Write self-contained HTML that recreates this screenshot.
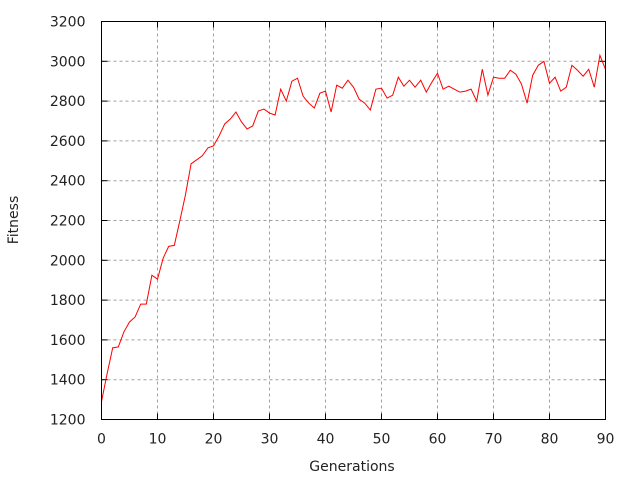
<!DOCTYPE html>
<html><head><meta charset="utf-8"><style>
body{margin:0;background:#fff;}
svg{display:block;font-family:"DejaVu Sans","Liberation Sans",sans-serif;}
</style></head><body>
<svg id="chart" width="640" height="480" viewBox="0 0 640 480">
<rect width="640" height="480" fill="#fff"/>
<g id="grid"></g>
<g id="ticks"></g>
<path id="line" fill="none" stroke="#ff0000" stroke-width="1"/>
<rect x="101.5" y="21.5" width="504" height="398" fill="none" stroke="#000" stroke-width="1"/>
<text x="352" y="471" font-size="14" text-anchor="middle" fill="#222">Generations</text>
<text transform="translate(18,220) rotate(-90)" font-size="14" text-anchor="middle" fill="#222">Fitness</text>
</svg>
<script>
const xTicks=[0,10,20,30,40,50,60,70,80,90];
const yTicks=[1200,1400,1600,1800,2000,2200,2400,2600,2800,3000,3200];
const fitness=[1290,1430,1560,1565,1640,1690,1715,1780,1780,1925,1905,2010,2070,2075,2200,2330,2485,2505,2525,2565,2575,2625,2685,2710,2745,2695,2660,2675,2750,2760,2740,2730,2860,2800,2900,2915,2825,2790,2765,2840,2850,2745,2880,2865,2905,2870,2810,2790,2755,2860,2865,2815,2830,2920,2875,2905,2870,2905,2845,2895,2940,2860,2875,2860,2845,2850,2860,2800,2960,2830,2920,2915,2915,2955,2935,2885,2790,2930,2980,3000,2890,2920,2850,2870,2980,2955,2925,2960,2870,3030,2960];
const L=101.5,R=605.5,T=21.5,B=419.5;
const xs=v=>L+(v-0)/90*(R-L);
const ys=v=>B-(v-1200)/2000*(B-T);
const NS='http://www.w3.org/2000/svg';
const grid=document.getElementById('grid'),ticks=document.getElementById('ticks');
function mk(tag,attrs,parent){const e=document.createElementNS(NS,tag);for(const k in attrs)e.setAttribute(k,attrs[k]);parent.appendChild(e);return e;}
xTicks.forEach(v=>{const x=xs(v);
 if(v>0&&v<90){const g=mk('line',{x1:x,x2:x,y1:T,y2:B,stroke:'#a0a0a0','stroke-dasharray':'3,3'},grid);
 
 }
 const t1=mk('line',{x1:x,x2:x,y1:B,y2:B-6,stroke:'#000'},ticks);
 
 
 const t2=mk('line',{x1:x,x2:x,y1:T,y2:T+6,stroke:'#000'},ticks);
 
 
 const l=mk('text',{x:x,y:B+24,'font-size':14,'text-anchor':'middle',fill:'#222'},ticks);l.textContent=v;
 
 
});
yTicks.forEach(v=>{const y=ys(v);
 if(v>1200&&v<3200){const g=mk('line',{x1:L,x2:R,y1:y,y2:y,stroke:'#a0a0a0','stroke-dasharray':'3,3'},grid);
 
 }
 const t1=mk('line',{x1:L,x2:L+6,y1:y,y2:y,stroke:'#000'},ticks);
 
 
 const t2=mk('line',{x1:R,x2:R-6,y1:y,y2:y,stroke:'#000'},ticks);
 
 
 const l=mk('text',{x:L-16,y:y+5,'font-size':14,'text-anchor':'end',fill:'#222'},ticks);l.textContent=v;
 
 
});
document.getElementById('line').setAttribute('d',fitness.map((v,i)=>(i?'L':'M')+xs(i).toFixed(2)+','+ys(v).toFixed(2)).join(''));
</script>
</body></html>
